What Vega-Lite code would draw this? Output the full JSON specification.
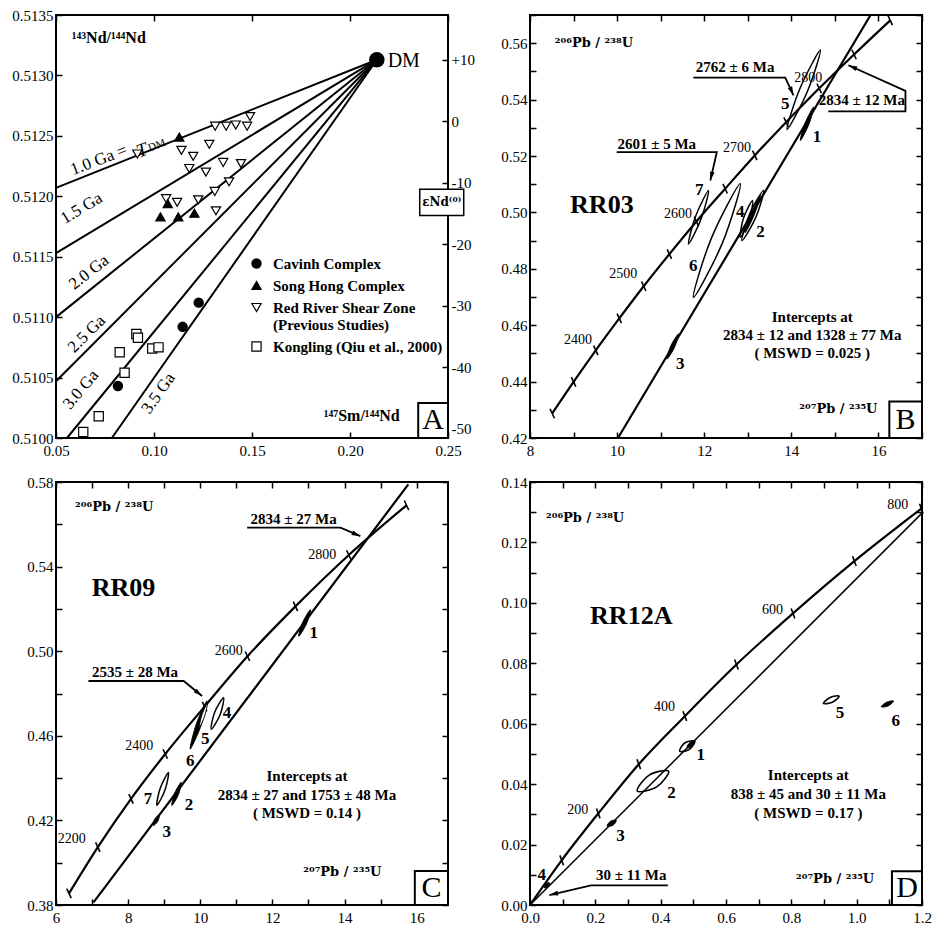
{
"$schema": "https://vega.github.io/schema/vega-lite/v6.json",
"background": "white",
"padding": {"left": 10, "top": 7, "right": 5, "bottom": 5},
"bounds": "flush",
"columns": 2,
"spacing": {"row": 44, "column": 82},
"datasets": {
"iso": [
{"g":"1.0","x":0.05,"y":0.51207},{"g":"1.0","x":0.2137,"y":0.51313},
{"g":"1.5","x":0.05,"y":0.51153},{"g":"1.5","x":0.2137,"y":0.51313},
{"g":"2.0","x":0.05,"y":0.5110},{"g":"2.0","x":0.2137,"y":0.51313},
{"g":"2.5","x":0.05,"y":0.51047},{"g":"2.5","x":0.2137,"y":0.51313},
{"g":"3.0","x":0.0556,"y":0.5100},{"g":"3.0","x":0.2137,"y":0.51313},
{"g":"3.5","x":0.0785,"y":0.5100},{"g":"3.5","x":0.2137,"y":0.51313}
],
"apts": [
{"grp":"Red River Shear Zone (Previous Studies)","x":0.0915,"y":0.51235},
{"grp":"Red River Shear Zone (Previous Studies)","x":0.114,"y":0.51238},
{"grp":"Red River Shear Zone (Previous Studies)","x":0.120,"y":0.51233},
{"grp":"Red River Shear Zone (Previous Studies)","x":0.118,"y":0.51223},
{"grp":"Red River Shear Zone (Previous Studies)","x":0.1265,"y":0.5122},
{"grp":"Red River Shear Zone (Previous Studies)","x":0.1282,"y":0.51243},
{"grp":"Red River Shear Zone (Previous Studies)","x":0.1312,"y":0.51258},
{"grp":"Red River Shear Zone (Previous Studies)","x":0.1368,"y":0.51258},
{"grp":"Red River Shear Zone (Previous Studies)","x":0.1417,"y":0.51259},
{"grp":"Red River Shear Zone (Previous Studies)","x":0.1475,"y":0.51258},
{"grp":"Red River Shear Zone (Previous Studies)","x":0.149,"y":0.51266},
{"grp":"Red River Shear Zone (Previous Studies)","x":0.1353,"y":0.51228},
{"grp":"Red River Shear Zone (Previous Studies)","x":0.1444,"y":0.51227},
{"grp":"Red River Shear Zone (Previous Studies)","x":0.1383,"y":0.51212},
{"grp":"Red River Shear Zone (Previous Studies)","x":0.131,"y":0.51204},
{"grp":"Red River Shear Zone (Previous Studies)","x":0.1226,"y":0.51197},
{"grp":"Red River Shear Zone (Previous Studies)","x":0.1316,"y":0.51188},
{"grp":"Red River Shear Zone (Previous Studies)","x":0.1062,"y":0.51198},
{"grp":"Red River Shear Zone (Previous Studies)","x":0.1118,"y":0.51195},
{"grp":"Song Hong Complex","x":0.1129,"y":0.51249},
{"grp":"Song Hong Complex","x":0.1033,"y":0.51183},
{"grp":"Song Hong Complex","x":0.107,"y":0.51194},
{"grp":"Song Hong Complex","x":0.1124,"y":0.51183},
{"grp":"Song Hong Complex","x":0.1206,"y":0.51186},
{"grp":"Cavinh Complex","x":0.1228,"y":0.51112},
{"grp":"Cavinh Complex","x":0.1146,"y":0.51092},
{"grp":"Cavinh Complex","x":0.0816,"y":0.51043},
{"grp":"Kongling (Qiu et al., 2000)","x":0.0639,"y":0.51005},
{"grp":"Kongling (Qiu et al., 2000)","x":0.0718,"y":0.51018},
{"grp":"Kongling (Qiu et al., 2000)","x":0.085,"y":0.51054},
{"grp":"Kongling (Qiu et al., 2000)","x":0.0825,"y":0.51071},
{"grp":"Kongling (Qiu et al., 2000)","x":0.091,"y":0.51086},
{"grp":"Kongling (Qiu et al., 2000)","x":0.0918,"y":0.51083},
{"grp":"Kongling (Qiu et al., 2000)","x":0.0991,"y":0.51074},
{"grp":"Kongling (Qiu et al., 2000)","x":0.1023,"y":0.51075}
],
"dm": [{"x":0.2137,"y":0.51313}],
"eps": [{"e":-50},{"e":10}],
"conc": [
{"p":"B","age":2300,"x":8.51,"y":0.4287},{"p":"B","age":2350,"x":9.00,"y":0.4399},{"p":"B","age":2400,"x":9.51,"y":0.4511},{"p":"B","age":2450,"x":10.05,"y":0.4624},{"p":"B","age":2500,"x":10.61,"y":0.4738},{"p":"B","age":2550,"x":11.20,"y":0.4852},{"p":"B","age":2600,"x":11.82,"y":0.4968},{"p":"B","age":2650,"x":12.48,"y":0.5084},{"p":"B","age":2700,"x":13.16,"y":0.5202},{"p":"B","age":2750,"x":13.88,"y":0.5320},{"p":"B","age":2800,"x":14.64,"y":0.5440},{"p":"B","age":2850,"x":15.44,"y":0.5560},{"p":"B","age":2900,"x":16.27,"y":0.5681},
{"p":"C","age":2100,"x":6.36,"y":0.3855},{"p":"C","age":2200,"x":7.16,"y":0.4074},{"p":"C","age":2300,"x":8.08,"y":0.4302},{"p":"C","age":2400,"x":9.03,"y":0.4514},{"p":"C","age":2500,"x":10.12,"y":0.4738},{"p":"C","age":2600,"x":11.31,"y":0.4976},{"p":"C","age":2700,"x":12.64,"y":0.5212},{"p":"C","age":2800,"x":14.12,"y":0.5455},{"p":"C","age":2900,"x":15.72,"y":0.5690},
{"p":"D","age":0,"x":0,"y":0},{"p":"D","age":100,"x":0.097,"y":0.0148},{"p":"D","age":200,"x":0.209,"y":0.0303},{"p":"D","age":300,"x":0.333,"y":0.0466},{"p":"D","age":400,"x":0.474,"y":0.0625},{"p":"D","age":500,"x":0.632,"y":0.0796},{"p":"D","age":600,"x":0.805,"y":0.0965},{"p":"D","age":700,"x":0.993,"y":0.1138},{"p":"D","age":800,"x":1.198,"y":0.1312}
],
"disc": [
{"p":"B","x":10.02,"y":0.42},{"p":"B","x":15.82,"y":0.57},
{"p":"C","x":7.04,"y":0.3812},{"p":"C","x":15.77,"y":0.5789},
{"p":"D","x":0,"y":0},{"p":"D","x":1.2,"y":0.1297}
],
"ell": [
{"p":"B","id":"5","k":"o","i":0,"x":14.667,"y":0.5576},{"p":"B","id":"5","k":"o","i":1,"x":14.368,"y":0.5429},{"p":"B","id":"5","k":"o","i":2,"x":13.901,"y":0.5294},{"p":"B","id":"5","k":"o","i":3,"x":14.200,"y":0.5440},
{"p":"B","id":"1","k":"f","i":0,"x":14.513,"y":0.5374},{"p":"B","id":"1","k":"f","i":1,"x":14.402,"y":0.5312},{"p":"B","id":"1","k":"f","i":2,"x":14.207,"y":0.5255},{"p":"B","id":"1","k":"f","i":3,"x":14.317,"y":0.5317},
{"p":"B","id":"7","k":"o","i":0,"x":12.099,"y":0.5078},{"p":"B","id":"7","k":"o","i":1,"x":11.933,"y":0.4979},{"p":"B","id":"7","k":"o","i":2,"x":11.639,"y":0.4888},{"p":"B","id":"7","k":"o","i":3,"x":11.805,"y":0.4987},
{"p":"B","id":"6","k":"o","i":0,"x":12.828,"y":0.5102},{"p":"B","id":"6","k":"o","i":1,"x":12.418,"y":0.4892},{"p":"B","id":"6","k":"o","i":2,"x":11.754,"y":0.4699},{"p":"B","id":"6","k":"o","i":3,"x":12.163,"y":0.4908},
{"p":"B","id":"4","k":"o","i":0,"x":13.110,"y":0.5042},{"p":"B","id":"4","k":"o","i":1,"x":13.034,"y":0.4974},{"p":"B","id":"4","k":"o","i":2,"x":12.828,"y":0.4912},{"p":"B","id":"4","k":"o","i":3,"x":12.903,"y":0.4980},
{"p":"B","id":"2","k":"o","i":0,"x":13.363,"y":0.5078},{"p":"B","id":"2","k":"o","i":1,"x":13.189,"y":0.4984},{"p":"B","id":"2","k":"o","i":2,"x":12.867,"y":0.4900},{"p":"B","id":"2","k":"o","i":3,"x":13.041,"y":0.4994},
{"p":"B","id":"2b","k":"f","i":0,"x":13.29,"y":0.506},{"p":"B","id":"2b","k":"f","i":1,"x":13.149,"y":0.4992},{"p":"B","id":"2b","k":"f","i":2,"x":12.94,"y":0.4928},{"p":"B","id":"2b","k":"f","i":3,"x":13.083,"y":0.4996},
{"p":"B","id":"3","k":"f","i":0,"x":11.409,"y":0.4569},{"p":"B","id":"3","k":"f","i":1,"x":11.317,"y":0.4521},{"p":"B","id":"3","k":"f","i":2,"x":11.143,"y":0.4480},{"p":"B","id":"3","k":"f","i":3,"x":11.234,"y":0.4527},
{"p":"C","id":"1","k":"f","i":0,"x":13.056,"y":0.5196},{"p":"C","id":"1","k":"f","i":1,"x":12.944,"y":0.5129},{"p":"C","id":"1","k":"f","i":2,"x":12.731,"y":0.5071},{"p":"C","id":"1","k":"f","i":3,"x":12.842,"y":0.5137},
{"p":"C","id":"4","k":"o","i":0,"x":10.647,"y":0.4780},{"p":"C","id":"4","k":"o","i":1,"x":10.553,"y":0.4701},{"p":"C","id":"4","k":"o","i":2,"x":10.306,"y":0.4631},{"p":"C","id":"4","k":"o","i":3,"x":10.400,"y":0.4711},
{"p":"C","id":"6","k":"f","i":0,"x":10.186,"y":0.4765},{"p":"C","id":"6","k":"f","i":1,"x":10.019,"y":0.4647},{"p":"C","id":"6","k":"f","i":2,"x":9.722,"y":0.4537},{"p":"C","id":"6","k":"f","i":3,"x":9.889,"y":0.4655},
{"p":"C","id":"5","k":"w","i":0,"x":10.194,"y":0.4752},{"p":"C","id":"5","k":"w","i":1,"x":10.122,"y":0.4693},{"p":"C","id":"5","k":"w","i":2,"x":9.972,"y":0.4639},{"p":"C","id":"5","k":"w","i":3,"x":10.044,"y":0.4698},
{"p":"C","id":"7","k":"o","i":0,"x":9.119,"y":0.4427},{"p":"C","id":"7","k":"o","i":1,"x":9.025,"y":0.4345},{"p":"C","id":"7","k":"o","i":2,"x":8.797,"y":0.4271},{"p":"C","id":"7","k":"o","i":3,"x":8.892,"y":0.4353},
{"p":"C","id":"2","k":"f","i":0,"x":9.472,"y":0.4380},{"p":"C","id":"2","k":"f","i":1,"x":9.394,"y":0.4322},{"p":"C","id":"2","k":"f","i":2,"x":9.214,"y":0.4271},{"p":"C","id":"2","k":"f","i":3,"x":9.292,"y":0.4329},
{"p":"C","id":"3","k":"f","i":0,"x":8.861,"y":0.4226},{"p":"C","id":"3","k":"f","i":1,"x":8.825,"y":0.4197},{"p":"C","id":"3","k":"f","i":2,"x":8.703,"y":0.4176},{"p":"C","id":"3","k":"f","i":3,"x":8.739,"y":0.4206},
{"p":"D","id":"1","k":"o","i":0,"x":0.5043,"y":0.0542},{"p":"D","id":"1","k":"o","i":1,"x":0.488,"y":0.0515},{"p":"D","id":"1","k":"o","i":2,"x":0.4583,"y":0.0509},{"p":"D","id":"1","k":"o","i":3,"x":0.4745,"y":0.0537},
{"p":"D","id":"1b","k":"f","i":0,"x":0.5043,"y":0.0542},{"p":"D","id":"1b","k":"f","i":1,"x":0.492,"y":0.0522},{"p":"D","id":"1b","k":"f","i":2,"x":0.481,"y":0.0523},{"p":"D","id":"1b","k":"f","i":3,"x":0.490,"y":0.0538},
{"p":"D","id":"2","k":"o","i":0,"x":0.4245,"y":0.0443},{"p":"D","id":"2","k":"o","i":1,"x":0.388,"y":0.0391},{"p":"D","id":"2","k":"o","i":2,"x":0.3284,"y":0.0377},{"p":"D","id":"2","k":"o","i":3,"x":0.3649,"y":0.0430},
{"p":"D","id":"3","k":"f","i":0,"x":0.264,"y":0.028},{"p":"D","id":"3","k":"f","i":1,"x":0.2541,"y":0.0264},{"p":"D","id":"3","k":"f","i":2,"x":0.2363,"y":0.0261},{"p":"D","id":"3","k":"f","i":3,"x":0.2462,"y":0.0277},
{"p":"D","id":"4","k":"f","i":0,"x":0.0592,"y":0.0074},{"p":"D","id":"4","k":"f","i":1,"x":0.0559,"y":0.0061},{"p":"D","id":"4","k":"f","i":2,"x":0.0439,"y":0.0057},{"p":"D","id":"4","k":"f","i":3,"x":0.0473,"y":0.0070},
{"p":"D","id":"5","k":"o","i":0,"x":0.9463,"y":0.0691},{"p":"D","id":"5","k":"o","i":1,"x":0.9254,"y":0.0671},{"p":"D","id":"5","k":"o","i":2,"x":0.8981,"y":0.0667},{"p":"D","id":"5","k":"o","i":3,"x":0.919,"y":0.0687},
{"p":"D","id":"6","k":"f","i":0,"x":1.113,"y":0.0675},{"p":"D","id":"6","k":"f","i":1,"x":1.0967,"y":0.0659},{"p":"D","id":"6","k":"f","i":2,"x":1.0752,"y":0.0656},{"p":"D","id":"6","k":"f","i":3,"x":1.0915,"y":0.0671}
],
"arr": [
{"p":"B","a":"B2762","i":0,"x":14.05,"y":0.5415},{"p":"B","a":"B2762","i":1,"x":13.86,"y":0.5478},{"p":"B","a":"B2762","i":2,"x":11.75,"y":0.5478},
{"p":"B","a":"B2834","i":0,"x":15.31,"y":0.5522},{"p":"B","a":"B2834","i":1,"x":16.62,"y":0.5431},{"p":"B","a":"B2834","i":2,"x":16.62,"y":0.5358},{"p":"B","a":"B2834","i":3,"x":14.85,"y":0.5358},
{"p":"B","a":"B2601","i":0,"x":12.14,"y":0.5113},{"p":"B","a":"B2601","i":1,"x":12.29,"y":0.5214},{"p":"B","a":"B2601","i":2,"x":9.99,"y":0.5214},
{"p":"C","a":"C2834","i":0,"x":14.44,"y":0.5544},{"p":"C","a":"C2834","i":1,"x":13.89,"y":0.5584},{"p":"C","a":"C2834","i":2,"x":11.30,"y":0.5584},
{"p":"C","a":"C2535","i":0,"x":10.05,"y":0.4788},{"p":"C","a":"C2535","i":1,"x":9.54,"y":0.4859},{"p":"C","a":"C2535","i":2,"x":6.90,"y":0.4859},
{"p":"D","a":"D30","i":0,"x":0.0592,"y":0.0033},{"p":"D","a":"D30","i":1,"x":0.187,"y":0.0065},{"p":"D","a":"D30","i":2,"x":0.422,"y":0.0065}
],
"box": [
{"p":"A","x":0.2348,"x2":0.25,"y":0.51,"y2":0.51029},
{"p":"B","x":16.25,"x2":17,"y":0.42,"y2":0.4329},
{"p":"C","x":15.95,"x2":16.87,"y":0.38,"y2":0.3961},
{"p":"D","x":1.108,"x2":1.2,"y":0,"y2":0.0112}
],
"lab": [
{"p":"A","kind":"ylab","text":"¹⁴³Nd/¹⁴⁴Nd","x":0.058,"y":0.51331},
{"p":"A","kind":"xlab","text":"¹⁴⁷Sm/¹⁴⁴Nd","x":0.206,"y":0.51018},
{"p":"A","kind":"dmlab","text":"DM","x":0.2192,"y":0.51312},
{"p":"A","kind":"letter","text":"A","x":0.2424,"y":0.51015},
{"p":"A","kind":"eps","text":"εNd⁽⁰⁾","x":0.2468,"y":0.51195},
{"p":"A","kind":"g10","text":"1.0 Ga =","x":0.0718,"y":0.5123},
{"p":"A","kind":"g10T","text":"T","x":0.0939,"y":0.51238},
{"p":"A","kind":"g10D","text":"DM","x":0.1015,"y":0.51242},
{"p":"A","kind":"g15","text":"1.5 Ga","x":0.063,"y":0.5119},
{"p":"A","kind":"g20","text":"2.0 Ga","x":0.0668,"y":0.51137},
{"p":"A","kind":"g25","text":"2.5 Ga","x":0.0657,"y":0.51086},
{"p":"A","kind":"g30","text":"3.0 Ga","x":0.0627,"y":0.5104},
{"p":"A","kind":"g35","text":"3.5 Ga","x":0.1023,"y":0.51037},
{"p":"B","kind":"ylab","text":"²⁰⁶Pb / ²³⁸U","x":8.57,"y":0.5599},
{"p":"B","kind":"xlab","text":"²⁰⁷Pb / ²³⁵U","x":15.08,"y":0.4302},
{"p":"B","kind":"rr","text":"RR03","x":9.65,"y":0.5028},
{"p":"B","kind":"age","text":"2400","x":9.1,"y":0.4548},
{"p":"B","kind":"age","text":"2500","x":10.14,"y":0.4783},
{"p":"B","kind":"age","text":"2600","x":11.4,"y":0.4994},
{"p":"B","kind":"age","text":"2700","x":12.75,"y":0.5228},
{"p":"B","kind":"age","text":"2800","x":14.39,"y":0.5477},
{"p":"B","kind":"num","text":"1","x":14.59,"y":0.5267},
{"p":"B","kind":"num","text":"2","x":13.29,"y":0.493},
{"p":"B","kind":"num","text":"3","x":11.45,"y":0.4462},
{"p":"B","kind":"num","text":"4","x":12.83,"y":0.5001},
{"p":"B","kind":"num","text":"5","x":13.86,"y":0.5386},
{"p":"B","kind":"num","text":"6","x":11.75,"y":0.4811},
{"p":"B","kind":"num","text":"7","x":11.885,"y":0.508},
{"p":"B","kind":"ann","text":"2762 ± 6 Ma","x":12.71,"y":0.5516},
{"p":"B","kind":"ann","text":"2834 ± 12 Ma","x":15.62,"y":0.5398},
{"p":"B","kind":"ann","text":"2601 ± 5 Ma","x":10.91,"y":0.5244},
{"p":"B","kind":"int","text":"Intercepts at","x":14.48,"y":0.4630},
{"p":"B","kind":"int","text":"2834 ± 12 and 1328 ± 77 Ma","x":14.48,"y":0.4566},
{"p":"B","kind":"int","text":"( MSWD = 0.025 )","x":14.48,"y":0.4500},
{"p":"B","kind":"letter","text":"B","x":16.62,"y":0.4264},
{"p":"C","kind":"ylab","text":"²⁰⁶Pb / ²³⁸U","x":6.53,"y":0.5682},
{"p":"C","kind":"xlab","text":"²⁰⁷Pb / ²³⁵U","x":13.94,"y":0.3957},
{"p":"C","kind":"rr","text":"RR09","x":7.87,"y":0.5298},
{"p":"C","kind":"age","text":"2200","x":6.44,"y":0.4113},
{"p":"C","kind":"age","text":"2400","x":8.31,"y":0.4553},
{"p":"C","kind":"age","text":"2600","x":10.79,"y":0.50},
{"p":"C","kind":"age","text":"2800","x":13.38,"y":0.5455},
{"p":"C","kind":"num","text":"1","x":13.15,"y":0.5086},
{"p":"C","kind":"num","text":"2","x":9.69,"y":0.4271},
{"p":"C","kind":"num","text":"3","x":9.07,"y":0.4145},
{"p":"C","kind":"num","text":"4","x":10.74,"y":0.471},
{"p":"C","kind":"num","text":"5","x":10.14,"y":0.4584},
{"p":"C","kind":"num","text":"6","x":9.72,"y":0.4482},
{"p":"C","kind":"num","text":"7","x":8.55,"y":0.4299},
{"p":"C","kind":"ann","text":"2834 ± 27 Ma","x":12.59,"y":0.5627},
{"p":"C","kind":"ann","text":"2535 ± 28 Ma","x":8.19,"y":0.4901},
{"p":"C","kind":"int","text":"Intercepts at","x":12.96,"y":0.4412},
{"p":"C","kind":"int","text":"2834 ± 27 and 1753 ± 48 Ma","x":12.96,"y":0.4318},
{"p":"C","kind":"int","text":"( MSWD = 0.14 )","x":12.96,"y":0.4236},
{"p":"C","kind":"letter","text":"C","x":16.41,"y":0.388},
{"p":"D","kind":"ylab","text":"²⁰⁶Pb / ²³⁸U","x":0.049,"y":0.128},
{"p":"D","kind":"xlab","text":"²⁰⁷Pb / ²³⁵U","x":0.934,"y":0.0085},
{"p":"D","kind":"rr","text":"RR12A","x":0.31,"y":0.0956},
{"p":"D","kind":"age","text":"200","x":0.146,"y":0.0314},
{"p":"D","kind":"age","text":"400","x":0.412,"y":0.0656},
{"p":"D","kind":"age","text":"600","x":0.742,"y":0.0977},
{"p":"D","kind":"age","text":"800","x":1.126,"y":0.1325},
{"p":"D","kind":"num","text":"1","x":0.523,"y":0.0498},
{"p":"D","kind":"num","text":"2","x":0.433,"y":0.0371},
{"p":"D","kind":"num","text":"3","x":0.277,"y":0.023},
{"p":"D","kind":"num","text":"4","x":0.036,"y":0.0098},
{"p":"D","kind":"num","text":"5","x":0.949,"y":0.0636},
{"p":"D","kind":"num","text":"6","x":1.12,"y":0.0608},
{"p":"D","kind":"ann","text":"30 ± 11 Ma","x":0.31,"y":0.0098},
{"p":"D","kind":"int","text":"Intercepts at","x":0.852,"y":0.0429},
{"p":"D","kind":"int","text":"838 ± 45 and 30 ± 11 Ma","x":0.852,"y":0.0366},
{"p":"D","kind":"int","text":"( MSWD = 0.17 )","x":0.852,"y":0.0305},
{"p":"D","kind":"letter","text":"D","x":1.154,"y":0.0056}
]
},
"concat": [
{
"width": 392, "height": 423,
"layer": [
{
"encoding": {
"x": {"field":"x","type":"quantitative","scale":{"domain":[0.05,0.25],"nice":false,"zero":false},"axis":{"orient":"bottom","title":null,"values":[0.05,0.1,0.15,0.2,0.25],"format":".2f"}},
"y": {"field":"y","type":"quantitative","scale":{"domain":[0.51,0.5135],"nice":false,"zero":false},"axis":{"orient":"left","title":null,"values":[0.51,0.5105,0.511,0.5115,0.512,0.5125,0.513,0.5135],"format":".4f"}}
},
"layer": [
{"data":{"name":"iso"},"mark":{"type":"line","color":"black","strokeWidth":2},"encoding":{"detail":{"field":"g"}}},
{"data":{"name":"apts"},"mark":{"type":"point","filled":true,"size":85,"strokeWidth":1.2,"opacity":1},
 "encoding":{
  "shape":{"field":"grp","type":"nominal","scale":{"domain":["Cavinh Complex","Song Hong Complex","Red River Shear Zone (Previous Studies)","Kongling (Qiu et al., 2000)"],"range":["circle","triangle-up","triangle-down","square"]},"legend":{"title":null,"orient":"none","legendX":193,"legendY":241,"labelExpr":"indexof(datum.label, 'Red River') == 0 ? ['Red River Shear Zone', '(Previous Studies)'] : datum.label"}},
  "fill":{"field":"grp","type":"nominal","scale":{"domain":["Cavinh Complex","Song Hong Complex","Red River Shear Zone (Previous Studies)","Kongling (Qiu et al., 2000)"],"range":["black","black","white","white"]},"legend":{"title":null,"orient":"none","legendX":193,"legendY":241,"labelExpr":"indexof(datum.label, 'Red River') == 0 ? ['Red River Shear Zone', '(Previous Studies)'] : datum.label"}},
  "stroke":{"field":"grp","type":"nominal","scale":{"domain":["Cavinh Complex","Song Hong Complex","Red River Shear Zone (Previous Studies)","Kongling (Qiu et al., 2000)"],"range":["black","black","black","black"]},"legend":{"title":null,"orient":"none","legendX":193,"legendY":241,"labelExpr":"indexof(datum.label, 'Red River') == 0 ? ['Red River Shear Zone', '(Previous Studies)'] : datum.label"}}
 }},
{"data":{"name":"dm"},"mark":{"type":"point","filled":true,"size":240,"color":"black","opacity":1}},
{"data":{"name":"lab"},"transform":[{"filter":"datum.p == 'A' && datum.kind == 'ylab'"}],"mark":{"type":"text","align":"left","baseline":"middle","fontSize":16,"fontWeight":"bold"},"encoding":{"text":{"field":"text"}}},
{"data":{"name":"lab"},"transform":[{"filter":"datum.p == 'A' && datum.kind == 'xlab'"}],"mark":{"type":"text","align":"center","baseline":"middle","fontSize":16,"fontWeight":"bold"},"encoding":{"text":{"field":"text"}}},
{"data":{"name":"lab"},"transform":[{"filter":"datum.p == 'A' && datum.kind == 'dmlab'"}],"mark":{"type":"text","align":"left","baseline":"middle","fontSize":20},"encoding":{"text":{"field":"text"}}},
{"data":{"name":"lab"},"transform":[{"filter":"datum.p == 'A' && datum.kind == 'g10'"}],"mark":{"type":"text","align":"center","baseline":"middle","fontSize":17,"angle":-21},"encoding":{"text":{"field":"text"}}},
{"data":{"name":"lab"},"transform":[{"filter":"datum.p == 'A' && datum.kind == 'g10T'"}],"mark":{"type":"text","align":"center","baseline":"middle","fontSize":19,"fontStyle":"italic","angle":-21},"encoding":{"text":{"field":"text"}}},
{"data":{"name":"lab"},"transform":[{"filter":"datum.p == 'A' && datum.kind == 'g10D'"}],"mark":{"type":"text","align":"center","baseline":"middle","fontSize":11,"angle":-21},"encoding":{"text":{"field":"text"}}},
{"data":{"name":"lab"},"transform":[{"filter":"datum.p == 'A' && datum.kind == 'g15'"}],"mark":{"type":"text","align":"center","baseline":"middle","fontSize":17,"angle":-31},"encoding":{"text":{"field":"text"}}},
{"data":{"name":"lab"},"transform":[{"filter":"datum.p == 'A' && datum.kind == 'g20'"}],"mark":{"type":"text","align":"center","baseline":"middle","fontSize":17,"angle":-38},"encoding":{"text":{"field":"text"}}},
{"data":{"name":"lab"},"transform":[{"filter":"datum.p == 'A' && datum.kind == 'g25'"}],"mark":{"type":"text","align":"center","baseline":"middle","fontSize":17,"angle":-45},"encoding":{"text":{"field":"text"}}},
{"data":{"name":"lab"},"transform":[{"filter":"datum.p == 'A' && datum.kind == 'g30'"}],"mark":{"type":"text","align":"center","baseline":"middle","fontSize":17,"angle":-50},"encoding":{"text":{"field":"text"}}},
{"data":{"name":"lab"},"transform":[{"filter":"datum.p == 'A' && datum.kind == 'g35'"}],"mark":{"type":"text","align":"center","baseline":"middle","fontSize":17,"angle":-55},"encoding":{"text":{"field":"text"}}},
{"data":{"name":"lab"},"transform":[{"filter":"datum.p == 'A' && datum.kind == 'eps'"}],"mark":{"type":"point","shape":"M-1,-0.6H1V0.6H-1Z","size":1936,"filled":true,"fill":"white","stroke":"black","strokeWidth":1.5,"opacity":1}},
{"data":{"name":"lab"},"transform":[{"filter":"datum.p == 'A' && datum.kind == 'eps'"}],"mark":{"type":"text","align":"center","baseline":"middle","fontSize":12,"fontWeight":"bold","font":"DejaVu Serif"},"encoding":{"text":{"field":"text"}}},
{"data":{"name":"box"},"transform":[{"filter":"datum.p == 'A'"}],"mark":{"type":"rect","fill":"white","stroke":"black","strokeWidth":2},"encoding":{"x2":{"field":"x2"},"y2":{"field":"y2"}}},
{"data":{"name":"lab"},"transform":[{"filter":"datum.p == 'A' && datum.kind == 'letter'"}],"mark":{"type":"text","align":"center","baseline":"middle","fontSize":30},"encoding":{"text":{"field":"text"}}}
]
},
{"data":{"name":"dm"},"mark":{"type":"point","opacity":0},
 "encoding":{
  "x":{"field":"x","type":"quantitative","scale":{"domain":[0.05,0.25],"nice":false,"zero":false},"axis":{"orient":"top","title":null,"values":[0.05,0.1,0.15,0.2,0.25],"labels":false}},
  "y":{"field":"y","type":"quantitative","scale":{"domain":[0.51,0.5135],"nice":false,"zero":false},"axis":null}
 }},
{"data":{"name":"eps"},"mark":{"type":"point","opacity":0},
 "encoding":{
  "y":{"field":"e","type":"quantitative","scale":{"domain":[-51.5,17.3],"nice":false,"zero":false},"axis":{"orient":"right","title":null,"values":[-50,-40,-30,-20,-10,0,10],"labelExpr":"datum.value > 0 ? '+' + datum.value : '' + datum.value"}}
 }}
],
"resolve": {"scale":{"y":"independent"},"axis":{"x":"independent","y":"independent"}}
},
{
"width": 392, "height": 423,
"layer": [
{
"encoding": {
"x": {"field":"x","type":"quantitative","scale":{"domain":[8,17],"nice":false,"zero":false},"axis":{"orient":"bottom","title":null,"values":[8,9,10,11,12,13,14,15,16,17],"labelExpr":"datum.value % 2 == 0 && datum.value < 17 ? datum.label : ''"}},
"y": {"field":"y","type":"quantitative","scale":{"domain":[0.42,0.57],"nice":false,"zero":false},"axis":{"orient":"left","title":null,"values":[0.42,0.43,0.44,0.45,0.46,0.47,0.48,0.49,0.5,0.51,0.52,0.53,0.54,0.55,0.56,0.57],"labelExpr":"round(datum.value*100) % 2 == 0 ? format(datum.value, '.2f') : ''"}}
},
"layer": [
{"data":{"name":"conc"},"transform":[{"filter":"datum.p == 'B'"}],"mark":{"type":"line","color":"black","strokeWidth":2.2,"interpolate":"monotone"}},
{"data":{"name":"conc"},"transform":[{"filter":"datum.p == 'B'"}],"mark":{"type":"point","shape":"stroke","size":110,"angle":65,"color":"black","strokeWidth":1.6,"opacity":1}},
{"data":{"name":"disc"},"transform":[{"filter":"datum.p == 'B'"}],"mark":{"type":"line","color":"black","strokeWidth":2.2}},
{"data":{"name":"ell"},"transform":[{"filter":"datum.p == 'B' && datum.k == 'o'"}],"mark":{"type":"line","interpolate":"cardinal-closed","color":"black","strokeWidth":1.5},"encoding":{"detail":{"field":"id"},"order":{"field":"i"}}},
{"data":{"name":"ell"},"transform":[{"filter":"datum.p == 'B' && datum.k == 'f'"}],"mark":{"type":"line","interpolate":"cardinal-closed","color":"black","fill":"black","strokeWidth":1},"encoding":{"detail":{"field":"id"},"order":{"field":"i"}}},
{"data":{"name":"arr"},"transform":[{"filter":"datum.p == 'B'"}],"mark":{"type":"line","color":"black","strokeWidth":1.8},"encoding":{"detail":{"field":"a"},"order":{"field":"i"}}},
{"data":{"name":"arr"},"transform":[{"filter":"datum.a == 'B2762' && datum.i == 0"}],"mark":{"type":"point","shape":"M0,0L-0.6,2.2L0.6,2.2Z","size":64,"angle":156,"filled":true,"color":"black","opacity":1}},
{"data":{"name":"arr"},"transform":[{"filter":"datum.a == 'B2834' && datum.i == 0"}],"mark":{"type":"point","shape":"M0,0L-0.6,2.2L0.6,2.2Z","size":64,"angle":294,"filled":true,"color":"black","opacity":1}},
{"data":{"name":"arr"},"transform":[{"filter":"datum.a == 'B2601' && datum.i == 0"}],"mark":{"type":"point","shape":"M0,0L-0.6,2.2L0.6,2.2Z","size":64,"angle":193,"filled":true,"color":"black","opacity":1}},
{"data":{"name":"lab"},"transform":[{"filter":"datum.p == 'B' && datum.kind == 'ylab'"}],"mark":{"type":"text","align":"left","baseline":"middle","fontSize":13,"fontWeight":"bold","font":"DejaVu Serif"},"encoding":{"text":{"field":"text"}}},
{"data":{"name":"lab"},"transform":[{"filter":"datum.p == 'B' && datum.kind == 'xlab'"}],"mark":{"type":"text","align":"center","baseline":"middle","fontSize":13,"fontWeight":"bold","font":"DejaVu Serif"},"encoding":{"text":{"field":"text"}}},
{"data":{"name":"lab"},"transform":[{"filter":"datum.p == 'B' && datum.kind == 'rr'"}],"mark":{"type":"text","align":"center","baseline":"middle","fontSize":26,"fontWeight":"bold"},"encoding":{"text":{"field":"text"}}},
{"data":{"name":"lab"},"transform":[{"filter":"datum.p == 'B' && datum.kind == 'age'"}],"mark":{"type":"text","align":"center","baseline":"middle","fontSize":14},"encoding":{"text":{"field":"text"}}},
{"data":{"name":"lab"},"transform":[{"filter":"datum.p == 'B' && datum.kind == 'num'"}],"mark":{"type":"text","align":"center","baseline":"middle","fontSize":17,"fontWeight":"bold"},"encoding":{"text":{"field":"text"}}},
{"data":{"name":"lab"},"transform":[{"filter":"datum.p == 'B' && (datum.kind == 'ann' || datum.kind == 'int')"}],"mark":{"type":"text","align":"center","baseline":"middle","fontSize":15,"fontWeight":"bold"},"encoding":{"text":{"field":"text"}}},
{"data":{"name":"box"},"transform":[{"filter":"datum.p == 'B'"}],"mark":{"type":"rect","fill":"white","stroke":"black","strokeWidth":2},"encoding":{"x2":{"field":"x2"},"y2":{"field":"y2"}}},
{"data":{"name":"lab"},"transform":[{"filter":"datum.p == 'B' && datum.kind == 'letter'"}],"mark":{"type":"text","align":"center","baseline":"middle","fontSize":30},"encoding":{"text":{"field":"text"}}}
]
},
{"data":{"name":"conc"},"transform":[{"filter":"datum.p == 'B'"}],"mark":{"type":"point","opacity":0},
 "encoding":{
  "x":{"field":"x","type":"quantitative","scale":{"domain":[8,17],"nice":false,"zero":false},"axis":{"orient":"top","title":null,"values":[8,9,10,11,12,13,14,15,16,17],"labels":false}},
  "y":{"field":"y","type":"quantitative","scale":{"domain":[0.42,0.57],"nice":false,"zero":false},"axis":{"orient":"right","title":null,"values":[0.42,0.43,0.44,0.45,0.46,0.47,0.48,0.49,0.5,0.51,0.52,0.53,0.54,0.55,0.56,0.57],"labels":false}}
 }}
],
"resolve": {"axis":{"x":"independent","y":"independent"}}
},
{
"width": 392, "height": 423,
"layer": [
{
"encoding": {
"x": {"field":"x","type":"quantitative","scale":{"domain":[6,16.87],"nice":false,"zero":false},"axis":{"orient":"bottom","title":null,"values":[6,7,8,9,10,11,12,13,14,15,16],"labelExpr":"datum.value % 2 == 0 ? datum.label : ''"}},
"y": {"field":"y","type":"quantitative","scale":{"domain":[0.38,0.58],"nice":false,"zero":false},"axis":{"orient":"left","title":null,"values":[0.38,0.4,0.42,0.44,0.46,0.48,0.5,0.52,0.54,0.56,0.58],"labelExpr":"round(datum.value*100) % 4 == 2 ? format(datum.value, '.2f') : ''"}}
},
"layer": [
{"data":{"name":"conc"},"transform":[{"filter":"datum.p == 'C'"}],"mark":{"type":"line","color":"black","strokeWidth":2.2,"interpolate":"monotone"}},
{"data":{"name":"conc"},"transform":[{"filter":"datum.p == 'C'"}],"mark":{"type":"point","shape":"stroke","size":110,"angle":65,"color":"black","strokeWidth":1.6,"opacity":1}},
{"data":{"name":"disc"},"transform":[{"filter":"datum.p == 'C'"}],"mark":{"type":"line","color":"black","strokeWidth":2.2}},
{"data":{"name":"ell"},"transform":[{"filter":"datum.p == 'C' && datum.k == 'o'"}],"mark":{"type":"line","interpolate":"cardinal-closed","color":"black","strokeWidth":1.5},"encoding":{"detail":{"field":"id"},"order":{"field":"i"}}},
{"data":{"name":"ell"},"transform":[{"filter":"datum.p == 'C' && datum.k == 'f'"}],"mark":{"type":"line","interpolate":"cardinal-closed","color":"black","fill":"black","strokeWidth":1},"encoding":{"detail":{"field":"id"},"order":{"field":"i"}}},
{"data":{"name":"ell"},"transform":[{"filter":"datum.p == 'C' && datum.k == 'w'"}],"mark":{"type":"line","interpolate":"cardinal-closed","color":"black","fill":"white","strokeWidth":1},"encoding":{"detail":{"field":"id"},"order":{"field":"i"}}},
{"data":{"name":"arr"},"transform":[{"filter":"datum.p == 'C'"}],"mark":{"type":"line","color":"black","strokeWidth":1.8},"encoding":{"detail":{"field":"a"},"order":{"field":"i"}}},
{"data":{"name":"arr"},"transform":[{"filter":"datum.a == 'C2834' && datum.i == 0"}],"mark":{"type":"point","shape":"M0,0L-0.6,2.2L0.6,2.2Z","size":64,"angle":113,"filled":true,"color":"black","opacity":1}},
{"data":{"name":"arr"},"transform":[{"filter":"datum.a == 'C2535' && datum.i == 0"}],"mark":{"type":"point","shape":"M0,0L-0.6,2.2L0.6,2.2Z","size":64,"angle":129,"filled":true,"color":"black","opacity":1}},
{"data":{"name":"lab"},"transform":[{"filter":"datum.p == 'C' && datum.kind == 'ylab'"}],"mark":{"type":"text","align":"left","baseline":"middle","fontSize":13,"fontWeight":"bold","font":"DejaVu Serif"},"encoding":{"text":{"field":"text"}}},
{"data":{"name":"lab"},"transform":[{"filter":"datum.p == 'C' && datum.kind == 'xlab'"}],"mark":{"type":"text","align":"center","baseline":"middle","fontSize":13,"fontWeight":"bold","font":"DejaVu Serif"},"encoding":{"text":{"field":"text"}}},
{"data":{"name":"lab"},"transform":[{"filter":"datum.p == 'C' && datum.kind == 'rr'"}],"mark":{"type":"text","align":"center","baseline":"middle","fontSize":26,"fontWeight":"bold"},"encoding":{"text":{"field":"text"}}},
{"data":{"name":"lab"},"transform":[{"filter":"datum.p == 'C' && datum.kind == 'age'"}],"mark":{"type":"text","align":"center","baseline":"middle","fontSize":14},"encoding":{"text":{"field":"text"}}},
{"data":{"name":"lab"},"transform":[{"filter":"datum.p == 'C' && datum.kind == 'num'"}],"mark":{"type":"text","align":"center","baseline":"middle","fontSize":17,"fontWeight":"bold"},"encoding":{"text":{"field":"text"}}},
{"data":{"name":"lab"},"transform":[{"filter":"datum.p == 'C' && (datum.kind == 'ann' || datum.kind == 'int')"}],"mark":{"type":"text","align":"center","baseline":"middle","fontSize":15,"fontWeight":"bold"},"encoding":{"text":{"field":"text"}}},
{"data":{"name":"box"},"transform":[{"filter":"datum.p == 'C'"}],"mark":{"type":"rect","fill":"white","stroke":"black","strokeWidth":2},"encoding":{"x2":{"field":"x2"},"y2":{"field":"y2"}}},
{"data":{"name":"lab"},"transform":[{"filter":"datum.p == 'C' && datum.kind == 'letter'"}],"mark":{"type":"text","align":"center","baseline":"middle","fontSize":30},"encoding":{"text":{"field":"text"}}}
]
},
{"data":{"name":"conc"},"transform":[{"filter":"datum.p == 'C'"}],"mark":{"type":"point","opacity":0},
 "encoding":{
  "x":{"field":"x","type":"quantitative","scale":{"domain":[6,16.87],"nice":false,"zero":false},"axis":{"orient":"top","title":null,"values":[6,7,8,9,10,11,12,13,14,15,16],"labels":false}},
  "y":{"field":"y","type":"quantitative","scale":{"domain":[0.38,0.58],"nice":false,"zero":false},"axis":{"orient":"right","title":null,"values":[0.38,0.4,0.42,0.44,0.46,0.48,0.5,0.52,0.54,0.56,0.58],"labels":false}}
 }}
],
"resolve": {"axis":{"x":"independent","y":"independent"}}
},
{
"width": 392, "height": 423,
"layer": [
{
"encoding": {
"x": {"field":"x","type":"quantitative","scale":{"domain":[0,1.2],"nice":false,"zero":false},"axis":{"orient":"bottom","title":null,"values":[0,0.1,0.2,0.3,0.4,0.5,0.6,0.7,0.8,0.9,1.0,1.1,1.2],"labelExpr":"round(datum.value*10) % 2 == 0 ? format(datum.value, '.1f') : ''"}},
"y": {"field":"y","type":"quantitative","scale":{"domain":[0,0.14],"nice":false,"zero":false},"axis":{"orient":"left","title":null,"values":[0,0.01,0.02,0.03,0.04,0.05,0.06,0.07,0.08,0.09,0.1,0.11,0.12,0.13,0.14],"labelExpr":"round(datum.value*100) % 2 == 0 ? format(datum.value, '.2f') : ''"}}
},
"layer": [
{"data":{"name":"conc"},"transform":[{"filter":"datum.p == 'D'"}],"mark":{"type":"line","color":"black","strokeWidth":2.2,"interpolate":"monotone"}},
{"data":{"name":"conc"},"transform":[{"filter":"datum.p == 'D' && datum.age > 0"}],"mark":{"type":"point","shape":"stroke","size":110,"angle":70,"color":"black","strokeWidth":1.6,"opacity":1}},
{"data":{"name":"disc"},"transform":[{"filter":"datum.p == 'D'"}],"mark":{"type":"line","color":"black","strokeWidth":1.5}},
{"data":{"name":"ell"},"transform":[{"filter":"datum.p == 'D' && datum.k == 'o'"}],"mark":{"type":"line","interpolate":"cardinal-closed","color":"black","strokeWidth":1.6},"encoding":{"detail":{"field":"id"},"order":{"field":"i"}}},
{"data":{"name":"ell"},"transform":[{"filter":"datum.p == 'D' && datum.k == 'f'"}],"mark":{"type":"line","interpolate":"cardinal-closed","color":"black","fill":"black","strokeWidth":1},"encoding":{"detail":{"field":"id"},"order":{"field":"i"}}},
{"data":{"name":"arr"},"transform":[{"filter":"datum.p == 'D'"}],"mark":{"type":"line","color":"black","strokeWidth":1.8},"encoding":{"detail":{"field":"a"},"order":{"field":"i"}}},
{"data":{"name":"arr"},"transform":[{"filter":"datum.a == 'D30' && datum.i == 0"}],"mark":{"type":"point","shape":"M0,0L-0.6,2.2L0.6,2.2Z","size":64,"angle":257,"filled":true,"color":"black","opacity":1}},
{"data":{"name":"lab"},"transform":[{"filter":"datum.p == 'D' && datum.kind == 'ylab'"}],"mark":{"type":"text","align":"left","baseline":"middle","fontSize":13,"fontWeight":"bold","font":"DejaVu Serif"},"encoding":{"text":{"field":"text"}}},
{"data":{"name":"lab"},"transform":[{"filter":"datum.p == 'D' && datum.kind == 'xlab'"}],"mark":{"type":"text","align":"center","baseline":"middle","fontSize":13,"fontWeight":"bold","font":"DejaVu Serif"},"encoding":{"text":{"field":"text"}}},
{"data":{"name":"lab"},"transform":[{"filter":"datum.p == 'D' && datum.kind == 'rr'"}],"mark":{"type":"text","align":"center","baseline":"middle","fontSize":26,"fontWeight":"bold"},"encoding":{"text":{"field":"text"}}},
{"data":{"name":"lab"},"transform":[{"filter":"datum.p == 'D' && datum.kind == 'age'"}],"mark":{"type":"text","align":"center","baseline":"middle","fontSize":14},"encoding":{"text":{"field":"text"}}},
{"data":{"name":"lab"},"transform":[{"filter":"datum.p == 'D' && datum.kind == 'num'"}],"mark":{"type":"text","align":"center","baseline":"middle","fontSize":17,"fontWeight":"bold"},"encoding":{"text":{"field":"text"}}},
{"data":{"name":"lab"},"transform":[{"filter":"datum.p == 'D' && (datum.kind == 'ann' || datum.kind == 'int')"}],"mark":{"type":"text","align":"center","baseline":"middle","fontSize":15,"fontWeight":"bold"},"encoding":{"text":{"field":"text"}}},
{"data":{"name":"box"},"transform":[{"filter":"datum.p == 'D'"}],"mark":{"type":"rect","fill":"white","stroke":"black","strokeWidth":2},"encoding":{"x2":{"field":"x2"},"y2":{"field":"y2"}}},
{"data":{"name":"lab"},"transform":[{"filter":"datum.p == 'D' && datum.kind == 'letter'"}],"mark":{"type":"text","align":"center","baseline":"middle","fontSize":30},"encoding":{"text":{"field":"text"}}}
]
},
{"data":{"name":"conc"},"transform":[{"filter":"datum.p == 'D'"}],"mark":{"type":"point","opacity":0},
 "encoding":{
  "x":{"field":"x","type":"quantitative","scale":{"domain":[0,1.2],"nice":false,"zero":false},"axis":{"orient":"top","title":null,"values":[0,0.1,0.2,0.3,0.4,0.5,0.6,0.7,0.8,0.9,1.0,1.1,1.2],"labels":false}},
  "y":{"field":"y","type":"quantitative","scale":{"domain":[0,0.14],"nice":false,"zero":false},"axis":{"orient":"right","title":null,"values":[0,0.01,0.02,0.03,0.04,0.05,0.06,0.07,0.08,0.09,0.1,0.11,0.12,0.13,0.14],"labels":false}}
 }}
],
"resolve": {"axis":{"x":"independent","y":"independent"}}
}
],
"config": {
"font": "Liberation Serif",
"view": {"stroke": "black", "strokeWidth": 2},
"axis": {"domain": false, "grid": false, "tickSize": -6, "tickWidth": 1.5, "tickColor": "black", "labelFont": "Liberation Serif", "labelFontSize": 15, "labelColor": "black", "labelPadding": 6, "labelOverlap": false, "labelFlush": false, "labelBound": false},
"axisX": {"labelPadding": 11},
"axisY": {"labelPadding": 9},
"legend": {"labelFont": "Liberation Serif", "labelFontSize": 15, "labelFontWeight": "bold", "labelColor": "black", "symbolSize": 85, "symbolStrokeWidth": 1.2, "labelOffset": 9, "rowPadding": 6, "labelLimit": 400},
"text": {"font": "Liberation Serif", "color": "black"}
}
}
